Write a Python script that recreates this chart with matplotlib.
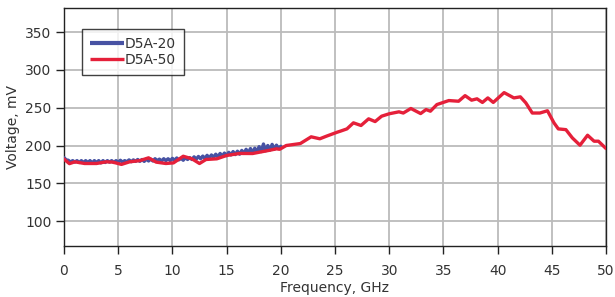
import numpy as np
import matplotlib
matplotlib.use("Agg")
import matplotlib.pyplot as plt

# D5A-50 (red) frequency (GHz) and voltage (mV)
red_freq = [0.0, 0.5, 1.0, 1.9, 3.0, 3.9, 4.5, 5.3, 6.05, 7.0, 7.8, 8.5, 9.4, 10.1,
            11.0, 11.8, 12.5, 13.1, 14.1, 15.0, 16.2, 17.4, 19.0, 19.6, 19.9, 20.5,
            21.8, 22.8, 23.6, 24.2, 25.2, 25.5, 26.1, 26.7, 27.4, 28.1, 28.7, 29.3,
            30.0, 30.9, 31.3, 32.0, 32.9, 33.4, 33.8, 34.4, 35.5, 36.4, 37.0, 37.6,
            38.1, 38.6, 39.1, 39.6, 40.6, 41.5, 42.1, 42.6, 43.2, 43.9, 44.6, 45.2,
            45.6, 46.3, 46.9, 47.6, 48.3, 48.9, 49.3, 50.0]
red_volt = [182, 176, 178.4, 176.2, 176.2, 178.4, 178, 175, 178.4, 180, 183.7, 178,
            176.2, 177, 185.8, 182.4, 176.2, 181.5, 182.4, 186.8, 189.5, 189.4, 193.8,
            195.6, 195, 200, 202.6, 211.5, 208.9, 212.3, 217.6, 219, 222, 230, 226.5,
            235.3, 231.7, 238.8, 242, 244.6, 243, 249, 242.3, 247.6, 245.4, 254.2,
            259.5, 258.6, 266, 260, 261.8, 257, 263, 257, 270, 263, 264.4, 256.5, 243,
            243, 246, 230, 222, 221, 210, 200.4, 213.6, 205.7, 205.7, 196]

# D5A-20 (blue) sampled every 0.2 GHz from 0 to 20 GHz
blue_freq = np.round(np.arange(0, 20.001, 0.2), 1)
blue_volt = [184, 181, 180.5, 178, 180, 178, 180, 177.5, 180, 177.5,
             180, 177.5, 180, 177, 180, 177.5, 180, 177, 180, 177.5,
             180, 178, 180, 177.5, 180, 178, 180.5, 178, 180, 178.5,
             181, 178.5, 181, 179, 181.5, 179, 181.5, 179, 182, 179.5,
             182, 179.5, 182.5, 180, 182, 179.5, 182.5, 180, 182.5, 180,
             183, 180.5, 183.5, 181, 183, 180.5, 184, 181.5, 184, 181.5,
             185, 182, 185.5, 182.5, 186, 183, 187, 183.5, 187.5, 184.5,
             188.5, 185, 189.5, 186, 190, 186.5, 191, 187.5, 192, 188,
             192.5, 188.5, 193.5, 189.5, 195, 190, 196, 190.5, 196.5, 191.5,
             198.5, 192, 202, 193, 200, 194, 201.5, 195, 200.5, 196,
             199]

x_ticks = [0, 5, 10, 15, 20, 25, 30, 35, 40, 45, 50]
y_ticks = [100, 150, 200, 250, 300, 350]

blue = "#4752a3"
red = "#e5203a"
txt = "#333333"

plt.rcParams['font.family'] = ['DejaVu Sans']
fig = plt.figure(figsize=(6.15, 2.97), dpi=100)
ax = fig.add_axes([64/615, 51/297, 542/615, 238/297])

ax.plot(blue_freq, blue_volt, color=blue, lw=2.4, label="D5A-20", solid_joinstyle='round',
        solid_capstyle='round', zorder=3)
ax.plot(red_freq, red_volt, color=red, lw=2.4, label="D5A-50", solid_joinstyle='round',
        solid_capstyle='round', zorder=4)

ax.set_xlim(0, 50)
ax.set_ylim(67, 382)
ax.set_xticks(x_ticks)
ax.set_yticks(y_ticks)
ax.grid(True, color="#bbbbbb", lw=1.3)
ax.set_axisbelow(True)
for s in ax.spines.values():
    s.set_color("#222222")
    s.set_linewidth(1.0)
ax.tick_params(axis='both', direction='out', length=6, width=1, color="#222222",
               labelsize=10, labelcolor=txt, pad=3)
ax.tick_params(axis='x', pad=7)
ax.set_xlabel("Frequency, GHz", fontsize=10, color=txt, labelpad=2)
ax.set_ylabel("Voltage, mV", fontsize=10, color=txt, labelpad=4)

leg = ax.legend(loc='upper left', bbox_to_anchor=(0.033, 0.911), borderaxespad=0,
                fontsize=10, frameon=True, fancybox=False, handlelength=2.5,
                handletextpad=0.05, borderpad=0.55, labelspacing=0.15)
leg.get_frame().set_edgecolor("#111111")
leg.get_frame().set_linewidth(1.0)
leg.get_lines()[0].set_linewidth(3.0)
leg.get_lines()[0].set_solid_capstyle('butt')
leg.get_lines()[1].set_solid_capstyle('butt')
for t in leg.get_texts():
    t.set_color(txt)

fig.savefig("out.png", dpi=100)
